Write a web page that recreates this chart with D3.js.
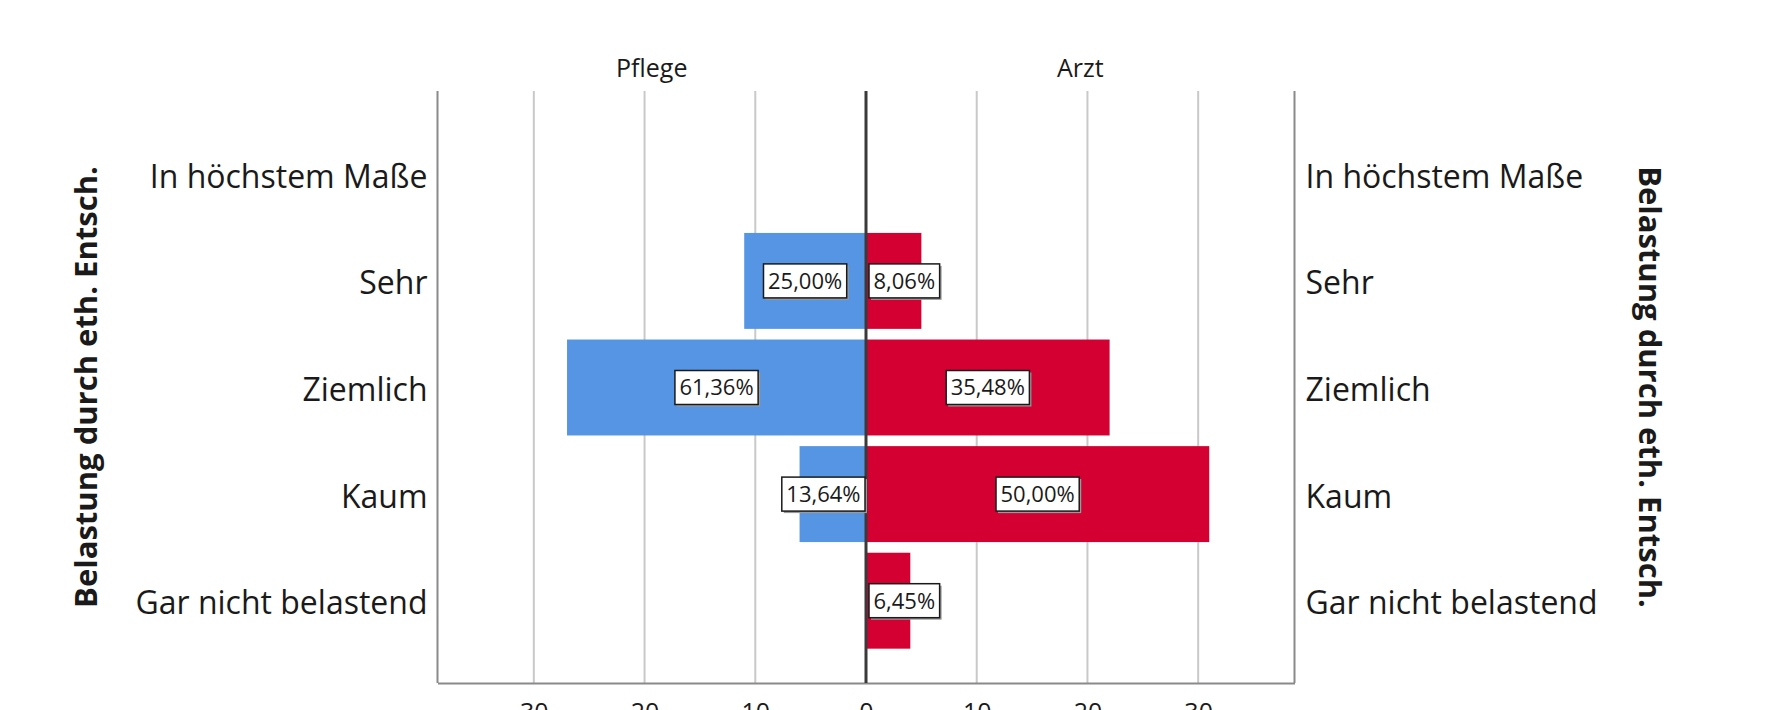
<!DOCTYPE html>
<html>
<head>
<meta charset="utf-8">
<script src="https://cdn.jsdelivr.net/npm/d3@7"></script>
<style>
  html, body { margin: 0; padding: 0; background: #fff; }
  svg { display: block; }
  text { font-family: "Open Sans", "DejaVu Sans", sans-serif; fill: #1a1a1a; }
</style>
</head>
<body>
<svg id="chart" width="1782" height="710"></svg>
<script>
// ---- data ----
const categories = ["In höchstem Maße", "Sehr", "Ziemlich", "Kaum", "Gar nicht belastend"];
const pflegeCounts = [0, 11, 27, 6, 0];
const arztCounts = [0, 5, 22, 31, 4];
const pflegeLabels = ["", "25,00%", "61,36%", "13,64%", ""];
const arztLabels = ["", "8,06%", "35,48%", "50,00%", "6,45%"];
const xTickValues = [-30, -20, -10, 0, 10, 20, 30];
const panelNames = ["Pflege", "Arzt"];
const axisTitle = "Belastung durch eth. Entsch.";

// ---- layout ----
const svg = d3.select("#chart");
const frame = { left: 437.5, right: 1294.5, top: 91, bottom: 683 };
const colors = { Pflege: "#5595E4", Arzt: "#D50032" };

const x = d3.scaleLinear().domain([-38.7, 38.7]).range([frame.left, frame.right]);
const y = d3.scaleBand().domain(categories).range([121, 654]).paddingInner(0.1).paddingOuter(0.05);

// gridlines
svg.append("g").selectAll("line")
  .data(xTickValues.filter(d => d !== 0))
  .join("line")
  .attr("x1", d => x(d)).attr("x2", d => x(d))
  .attr("y1", frame.top).attr("y2", frame.bottom)
  .attr("stroke", "#c9c9c9").attr("stroke-width", 2);

// bars
const rows = categories.map((c, i) => ({
  cat: c, p: pflegeCounts[i], a: arztCounts[i], pl: pflegeLabels[i], al: arztLabels[i]
}));

const bars = svg.append("g");
bars.selectAll("rect.p").data(rows.filter(r => r.p > 0)).join("rect")
  .attr("class", "p")
  .attr("x", r => x(-r.p)).attr("width", r => x(0) - x(-r.p))
  .attr("y", r => y(r.cat)).attr("height", y.bandwidth())
  .attr("fill", colors.Pflege);
bars.selectAll("rect.a").data(rows.filter(r => r.a > 0)).join("rect")
  .attr("class", "a")
  .attr("x", x(0)).attr("width", r => x(r.a) - x(0))
  .attr("y", r => y(r.cat)).attr("height", y.bandwidth())
  .attr("fill", colors.Arzt);

// frame lines
const fr = svg.append("g").attr("stroke", "#8a8a8a").attr("stroke-width", 2).attr("fill", "none");
fr.append("line").attr("x1", frame.left).attr("x2", frame.left).attr("y1", frame.top).attr("y2", frame.bottom);
fr.append("line").attr("x1", frame.right).attr("x2", frame.right).attr("y1", frame.top).attr("y2", frame.bottom);

// bottom axis
const xAxis = d3.axisBottom(x).tickValues(xTickValues).tickSize(0).tickPadding(20)
  .tickFormat(d => Math.abs(d));
const ax = svg.append("g").attr("transform", `translate(0,${frame.bottom})`).call(xAxis);
ax.select(".domain").attr("stroke", "#8a8a8a").attr("stroke-width", 2);
ax.selectAll("text").attr("font-size", 25).attr("fill", "#1a1a1a")
  .attr("font-family", "'Open Sans', sans-serif");

// center line
svg.append("line")
  .attr("x1", x(0)).attr("x2", x(0)).attr("y1", frame.top).attr("y2", frame.bottom)
  .attr("stroke", "#3a3a3a").attr("stroke-width", 3);

// data labels
function addLabel(row, value, text, side) {
  if (!text) return;
  const g = svg.append("g");
  const t = g.append("text").text(text).attr("font-size", 22).attr("text-anchor", "middle")
    .attr("dy", "0.36em");
  const tw = t.node().getComputedTextLength();
  const bw = tw + 9, bh = 34;
  let cx = side === "left" ? (x(-value) + x(0)) / 2 : (x(value) + x(0)) / 2;
  if (side === "left") cx = Math.min(cx, x(0) - 1 - bw / 2);
  else cx = Math.max(cx, x(0) + 3 + bw / 2);
  const cy = y(row.cat) + y.bandwidth() / 2;
  g.insert("rect", "text").attr("x", cx - bw / 2 + 2).attr("y", cy - bh / 2 + 2)
    .attr("width", bw).attr("height", bh).attr("fill", "#9a9a9a");
  g.insert("rect", "text").attr("x", cx - bw / 2).attr("y", cy - bh / 2)
    .attr("width", bw).attr("height", bh).attr("fill", "#fff")
    .attr("stroke", "#1a1a1a").attr("stroke-width", 1.5);
  t.attr("x", cx).attr("y", cy);
}
rows.forEach(r => { addLabel(r, r.p, r.pl, "left"); addLabel(r, r.a, r.al, "right"); });

// category labels
svg.append("g").selectAll("text").data(categories).join("text")
  .attr("x", frame.left - 10).attr("y", d => y(d) + y.bandwidth() / 2)
  .attr("dy", "0.42em").attr("text-anchor", "end").attr("font-size", 32).text(d => d);
svg.append("g").selectAll("text").data(categories).join("text")
  .attr("x", frame.right + 11).attr("y", d => y(d) + y.bandwidth() / 2)
  .attr("dy", "0.42em").attr("text-anchor", "start").attr("font-size", 32).text(d => d);

// panel titles
svg.append("g").selectAll("text").data(panelNames).join("text")
  .attr("x", (d, i) => i === 0 ? (x(x.domain()[0]) + x(0)) / 2 : (x(0) + x(x.domain()[1])) / 2)
  .attr("y", 77).attr("text-anchor", "middle").attr("font-size", 25).text(d => d);

// axis titles
const midY = (frame.top + frame.bottom) / 2;
svg.append("text").attr("transform", `translate(97,${midY}) rotate(-90)`)
  .attr("text-anchor", "middle").attr("font-size", 31).attr("font-weight", "bold").text(axisTitle);
svg.append("text").attr("transform", `translate(1639,${midY}) rotate(90)`)
  .attr("text-anchor", "middle").attr("font-size", 31).attr("font-weight", "bold").text(axisTitle);
</script>
</body>
</html>
